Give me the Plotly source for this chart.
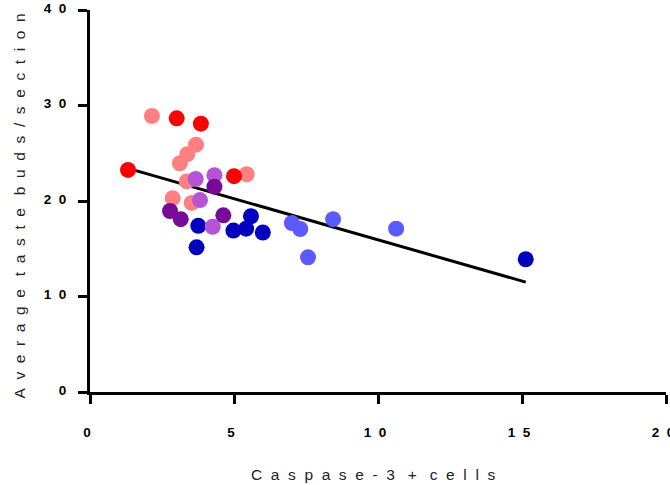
import numpy as np
import plotly.graph_objects as go

NB = "\u00a0"

def spaced(s, gap=2, word=3):
    out = []
    for w in s.split(" "):
        out.append((NB * gap).join(list(w)))
    return (NB * word).join(out)

# data
pink_x = [2.15, 3.12, 3.38, 3.68, 3.36, 3.53, 2.87, 5.44]
pink_y = [28.9, 23.95, 24.9, 25.9, 22.05, 19.8, 20.3, 22.8]
red_x = [1.32, 3.01, 3.85, 5.00]
red_y = [23.25, 28.66, 28.1, 22.6]
dblue_x = [3.76, 3.70, 4.98, 5.42, 5.59, 6.00, 15.13]
dblue_y = [17.4, 15.15, 16.9, 17.1, 18.4, 16.7, 13.9]
mblue_x = [7.01, 7.30, 7.57, 8.44, 10.63]
mblue_y = [17.7, 17.07, 14.1, 18.1, 17.1]
orchid_x = [3.67, 4.32, 3.82, 4.26]
orchid_y = [22.3, 22.7, 20.1, 17.3]
dpurple_x = [4.32, 2.78, 3.15, 4.63]
dpurple_y = [21.5, 18.95, 18.1, 18.5]

x_ticks = [0, 5, 10, 15, 20]
y_ticks = [0, 10, 20, 30, 40]
x_ticktext = ["0", "5", "1\u00a0\u00a00", "1\u00a0\u00a05", "2\u00a0\u00a00"]
y_ticktext = ["0", "1\u00a0\u00a00", "2\u00a0\u00a00", "3\u00a0\u00a00", "4\u00a0\u00a00"]
x_title = "Caspase-3 + cells"
y_title = "Average taste buds/section"

series = [
    (pink_x, pink_y, "#FF8080"),
    (red_x, red_y, "#FF0000"),
    (dblue_x, dblue_y, "#0000BF"),
    (mblue_x, mblue_y, "#5A5AFF"),
    (orchid_x, orchid_y, "#B555D5"),
    (dpurple_x, dpurple_y, "#780A98"),
]

all_x = np.array(sum([s[0] for s in series], []))
all_y = np.array(sum([s[1] for s in series], []))
slope, intercept = np.polyfit(all_x, all_y, 1)
fx = np.array([all_x.min(), all_x.max()])
fy = slope * fx + intercept

fig = go.Figure()
fig.add_trace(go.Scatter(x=fx, y=fy, mode="lines",
                         line=dict(color="black", width=3), showlegend=False,
                         hoverinfo="skip"))
for xs, ys, c in series:
    fig.add_trace(go.Scatter(x=xs, y=ys, mode="markers",
                             marker=dict(color=c, size=16, line=dict(width=0)),
                             showlegend=False))

axis_common = dict(showline=True, linecolor="black", linewidth=3,
                   ticks="outside", ticklen=9, tickwidth=3, tickcolor="black",
                   showgrid=False, zeroline=False, automargin=False,
                   ticklabeloverflow="allow",
                   tickfont=dict(family="Liberation Sans", size=13.5, color="black",
                                 weight="bold"))

title_font = dict(family="Liberation Sans", size=15.5, color="#222")

fig.update_layout(
    width=670, height=485,
    margin=dict(l=90, r=4, t=10, b=93),
    paper_bgcolor="white", plot_bgcolor="white",
    xaxis=dict(range=[0, 20], tickvals=x_ticks, ticktext=x_ticktext,
               ticklabelstandoff=17, ticklabelshift=-3, **axis_common),
    yaxis=dict(range=[0, 40], tickvals=y_ticks, ticktext=y_ticktext,
               ticklabelstandoff=9, ticklabelshift=-2, **axis_common),
    annotations=[
        dict(text=spaced(x_title), xref="paper", yref="paper", x=0.492, y=0,
             xanchor="center", yanchor="middle", yshift=-82, showarrow=False,
             font=title_font),
        dict(text=spaced(y_title), xref="paper", yref="paper", x=0, y=0.487,
             xanchor="center", yanchor="middle", xshift=-70.5, textangle=-90,
             showarrow=False, font=title_font),
    ],
)

fig.write_html("out.html", config={"displayModeBar": False},
               post_script="document.body.style.margin='0';")
